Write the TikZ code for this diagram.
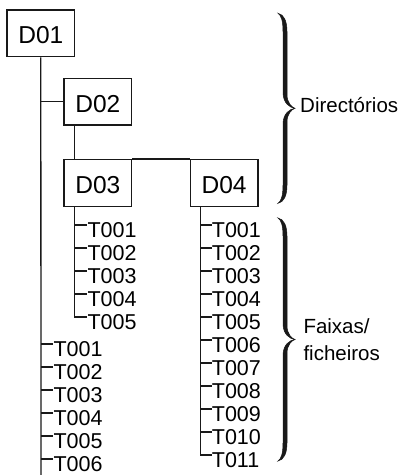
\documentclass[tikz,border=0pt]{standalone}
\usepackage{fontspec}
\setmainfont{Liberation Sans}
\usetikzlibrary{positioning}

\begin{document}
\begin{tikzpicture}[
  x=1pt, y=-1pt,
  dirbox/.style={
    draw=black!90, line width=1.3pt, inner sep=0pt,
    minimum width=67.7pt, minimum height=46.7pt,
    text height=21pt, text depth=0pt,
    font=\fontsize{24.5}{28}\selectfont
  },
  leaf/.style={
    inner sep=0pt, anchor=north west,
    text height=12.3pt, text depth=1pt,
    font=\fontsize{21.5}{23}\selectfont
  },
  tree/.style={draw=black!90, line width=1.3pt},
  curly/.style={fill=black!90, draw=black!90, line width=0.5pt},
  grouplabel/.style={font=\fontsize{20.5}{26.7}\selectfont, align=left, inner sep=0pt}
]
\useasboundingbox (0,0) rectangle (400,475);

% ---------- DIRECTORIES ----------
\node[dirbox] (d01) at (40.8,33.3) {D01};
\node[dirbox] (d02) at (97.8,101.7) {D02};
\node[dirbox, below=33.3pt of d02] (d03) {D03};
\node[dirbox, right=57.3pt of d03] (d04) {D04};

\coordinate (d01end) at (41,475);
\coordinate (d02s) at ([xshift=11.3pt]d02.south west);
\coordinate (d03s) at ([xshift=11.3pt]d03.south west);
\coordinate (d04s) at ([xshift=11pt]d04.south west);

% ---------- TRACKS / FILES ----------
\foreach \i in {1,...,5}
  \node[leaf] (d03t\i) at (87.3,{225+23*(\i-1)}) {T00\i};
\foreach \i in {1,...,11}
  \node[leaf] (d04t\i) at (211.7,{225+23*(\i-1)}) {T\ifnum\i<10 00\else 0\fi\i};
\foreach \i in {1,...,6}
  \node[leaf] (d01t\i) at (53.3,{344+23*(\i-1)}) {T00\i};

% ---------- CONNECTORS ----------
\draw[tree] (d01.south) -- (d01end);
\draw[tree] (d01.south |- d02.west) -- (d02.west);
\draw[tree] (d02s) -- (d03s |- d03.north);
\draw[tree] (d03.north east) -- (d04.north west);
\draw[tree] (d03s) |- (d03t5.north west);
\draw[tree] (d04s) |- (d04t11.north west);
\foreach \i in {1,...,4}
  \draw[tree] (d03s |- d03t\i.north west) -- (d03t\i.north west);
\foreach \i in {1,...,10}
  \draw[tree] (d04s |- d04t\i.north west) -- (d04t\i.north west);
\foreach \i in {1,...,6}
  \draw[tree] (d01.south |- d01t\i.north west) -- (d01t\i.north west);

% ---------- BRACES ----------
\foreach \ya/\yb in {13.3/203.3, 218/461} {
  \pgfmathsetmacro\la{(\yb-\ya)/2-32}
  \pgfmathsetmacro\lb{(\yb-\ya)/2-34}
  \filldraw[curly] (278,\ya)
    .. controls +(6,1) and +(0,-10) .. ++(9,18) -- ++(0,\la)
    .. controls +(0,9) and +(-3,-1) .. ++(8,14)
    .. controls +(-3,1) and +(0,-9) .. ++(-8,14) -- ++(0,\la)
    .. controls +(0,10) and +(6,-1) .. ++(-9,18)
    .. controls +(3,-2) and +(0,11) .. ++(5,-18) -- ++(0,-\lb)
    .. controls +(0,-11) and +(-5,0.5) .. ++(12,-16)
    .. controls +(-5,-0.5) and +(0,11) .. ++(-12,-16) -- ++(0,-\lb)
    .. controls +(0,-11) and +(3,2) .. ++(-5,-18) -- cycle;
}
\node[grouplabel, anchor=base west] (dirs) at (300,112.7) {Directórios};
\node[grouplabel, anchor=west] (files) at (303.3,339.5) {Faixas/\\ficheiros};

\end{tikzpicture}
\end{document}
